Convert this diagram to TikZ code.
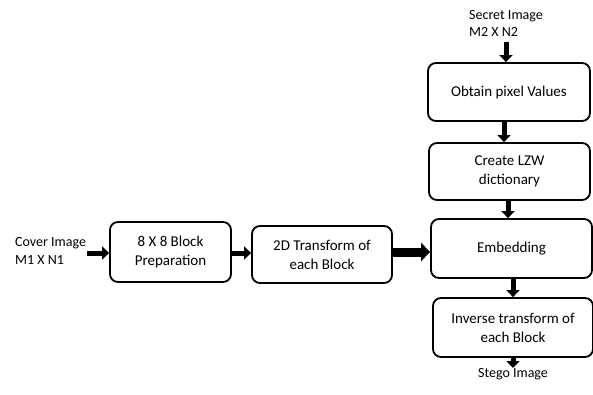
\documentclass[tikz,border=0pt]{standalone}
\usepackage{fontspec}
\setmainfont{Carlito}
\usetikzlibrary{arrows.meta}
\begin{document}
\begin{tikzpicture}[x=1pt,y=-1pt,
  box/.style={draw,line width=1.8pt,rounded corners=8pt,align=center,inner sep=0pt,font=\fontsize{15}{19}\selectfont},
  lbl/.style={align=left,inner sep=0pt,font=\fontsize{14}{17.5}\selectfont},
  arr/.style={line width=5pt,-{Triangle[length=7pt,width=13pt]}},
  barr/.style={line width=9pt,-{Triangle[length=9pt,width=18pt]}}]
\useasboundingbox (0,0) rectangle (593,394);
\node[box,minimum width=121pt,minimum height=60pt] (prep) at (170.5,252) {8 X 8 Block\\Preparation};
\node[box,minimum width=140pt,minimum height=57pt] (tr) at (322,254.5) {2D Transform of\\each Block};
\node[box,minimum width=162pt,minimum height=58pt] (obt) at (509,92) {Obtain pixel Values};
\node[box,minimum width=161pt,minimum height=57pt] (lzw) at (509.5,171.5) {Create LZW\\dictionary};
\node[box,minimum width=161pt,minimum height=59pt] (emb) at (511.5,248.5) {Embedding};
\node[box,minimum width=160pt,minimum height=59pt] (inv) at (513,327.5) {Inverse transform of\\each Block};
\node[lbl,anchor=west] (cover) at (15,251) {Cover Image\\M1 X N1};
\node[lbl,anchor=west] (secret) at (469,23.5) {Secret Image\\M2 X N2};
\node[lbl,anchor=north,font=\fontsize{14}{16}\selectfont] (stego) at (513,368) {Stego Image};
\coordinate (sa) at (506,42);
\coordinate (ca) at (87,253);
\coordinate (ia) at (513,357);
\draw[arr] (ca) -- (prep.west|-ca);
\draw[arr] (prep.east|-ca) -- (tr.west|-ca);
\draw[barr] (tr.east|-0,252) -- (emb.west|-0,252);
\draw[arr] (sa) -- (sa|-obt.north);
\draw[arr] (504,0|-obt.south) -- (504,0|-lzw.north);
\draw[arr] (508,0|-lzw.south) -- (508,0|-emb.north);
\draw[arr] (513,0|-emb.south) -- (513,0|-inv.north);
\draw[arr] (ia) -- (stego.north);
\end{tikzpicture}
\end{document}
